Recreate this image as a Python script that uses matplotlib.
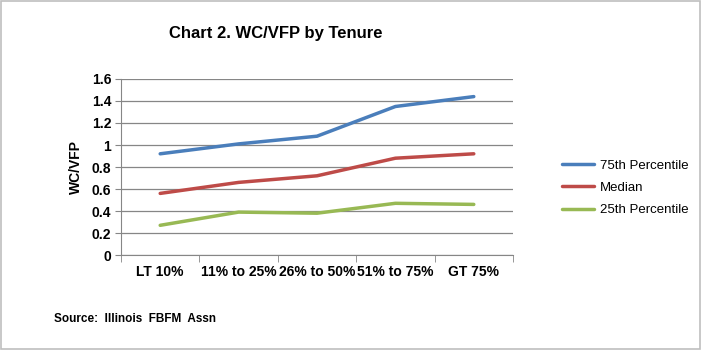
import matplotlib.pyplot as plt
from matplotlib.patches import Rectangle

plt.rcParams["font.family"] = ["Liberation Sans", "DejaVu Sans"]
plt.rcParams["font.weight"] = "bold"

categories = ["LT 10%", "11% to 25%", "26% to 50%", "51% to 75%", "GT 75%"]
p75 = [0.92, 1.01, 1.08, 1.35, 1.44]
median = [0.56, 0.66, 0.72, 0.88, 0.92]
p25 = [0.27, 0.39, 0.38, 0.47, 0.46]
y_ticks = [0, 0.2, 0.4, 0.6, 0.8, 1, 1.2, 1.4, 1.6]
y_labels = ["0", "0.2", "0.4", "0.6", "0.8", "1", "1.2", "1.4", "1.6"]

fig = plt.figure(figsize=(7.01, 3.5), dpi=100)
ax = fig.add_axes([0.1726, 0.2714, 0.5592, 0.5029])

x = range(len(categories))
ax.plot(x, p75, color="#4A7EBB", lw=2.5, label="75th Percentile", solid_capstyle="round")
ax.plot(x, median, color="#BE4B48", lw=2.5, label="Median", solid_capstyle="round")
ax.plot(x, p25, color="#98B954", lw=2.5, label="25th Percentile", solid_capstyle="round")

ax.set_xlim(-0.5, len(categories) - 0.5)
ax.set_ylim(0, 1.6)
ax.set_yticks(y_ticks)
ax.set_yticklabels(y_labels)
ax.set_xticks(list(x))
ax.set_xticklabels(categories)
ax.set_xticks([i - 0.5 for i in range(len(categories) + 1)], minor=True)
ax.tick_params(axis="x", which="major", length=0, pad=7, labelsize=10)
ax.tick_params(axis="x", which="minor", length=5, color="#868686", direction="out")
ax.tick_params(axis="y", length=4, color="#868686", labelsize=10, pad=3)
ax.grid(axis="y", color="#868686", lw=0.9)
ax.set_axisbelow(True)
for s in ["top", "right"]:
    ax.spines[s].set_visible(False)
for s in ["left", "bottom"]:
    ax.spines[s].set_color("#868686")
ax.set_ylabel("WC/VFP", fontsize=10, fontweight="bold", labelpad=6)

ax.legend(loc="center left", bbox_to_anchor=(0.802, 0.463), bbox_transform=fig.transFigure,
          frameon=False, handlelength=2.4, handletextpad=0.45, labelspacing=0.75,
          borderaxespad=0, borderpad=0, prop={"weight": "normal", "size": 9.5})

fig.text(0.393, 0.905, "Chart 2. WC/VFP by Tenure", ha="center", va="center",
         fontsize=12, fontweight="bold")
fig.text(0.077, 0.09, "Source:  Illinois  FBFM  Assn", ha="left", va="center",
         fontsize=8.5, fontweight="bold")

fig.patches.append(Rectangle((0.001, 0.002), 0.997, 0.995, transform=fig.transFigure,
                             fill=False, edgecolor="#BFBFBF", lw=1.2))

fig.savefig("out.png", dpi=100)
